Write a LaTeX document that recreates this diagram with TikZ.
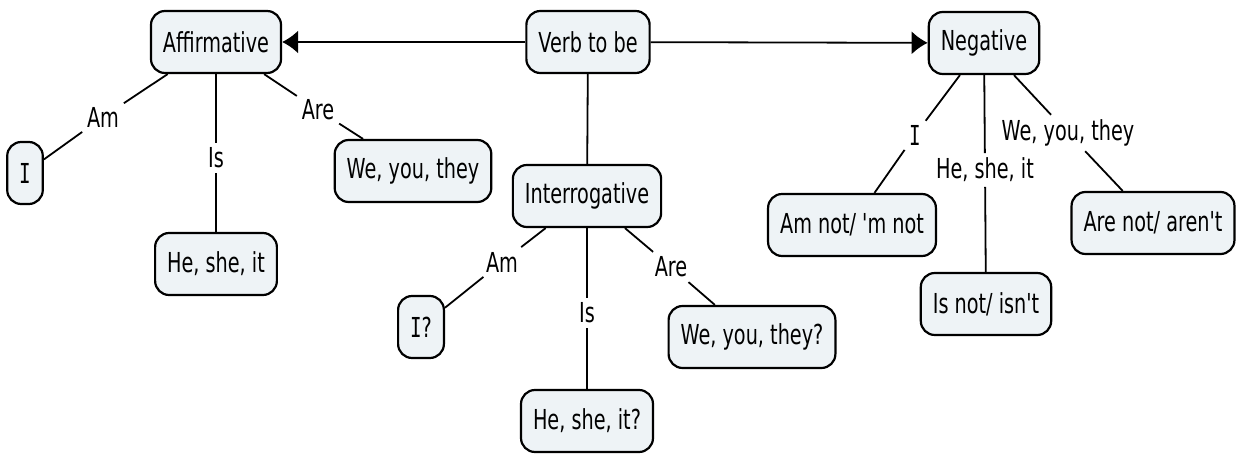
\documentclass[tikz,border=0pt]{standalone}
\usepackage{fontspec}
\newfontfamily\mapfont{DejaVu Sans}[FakeStretch=0.7]
\newfontfamily\mapserif{DejaVu Sans Mono}[FakeStretch=0.7]
\usetikzlibrary{arrows.meta}
\definecolor{conceptfill}{HTML}{EEF3F6}
\newcommand{\pI}{{\mapserif I}}
\tikzset{concept/.style={draw, rounded corners=14pt, fill=conceptfill, line width=2.2pt,
           minimum height=62pt, minimum width=34pt, inner xsep=12pt,
           font=\mapfont\fontsize{27.5}{32}\selectfont},
         linkword/.style={inner sep=4pt, font=\mapfont\fontsize{27.5}{32}\selectfont},
         >={Latex[length=16pt,width=23pt]}}

\begin{document}
\begin{tikzpicture}[x=1pt, y=-1pt, line width=1.8pt]
    \useasboundingbox (0,0) rectangle (1241,454);
    % concepts
    \node[concept] (verb) at (588,42) {Verb to be};
    \node[concept] (aff) at (216,42) {Affirmative};
    \node[concept] (neg) at (984,43) {Negative};
    \node[concept] (int) at (587,196) {Interrogative};
    \node[concept] (affI) at (25,173) {\pI};
    \node[concept] (affHe) at (216,264) {He, she, it};
    \node[concept] (affWe) at (413,171) {We, you, they};
    \node[concept] (intI) at (421,327) {\pI?};
    \node[concept] (intHe) at (587,421) {He, she, it?};
    \node[concept] (intWe) at (752,337) {We, you, they?};
    \node[concept] (negAm) at (852,225) {Am not/ 'm not};
    \node[concept] (negIs) at (986,304) {Is not/ isn't};
    \node[concept] (negAre) at (1153,223) {Are not/ aren't};

    % linking words
    \node[linkword] (affAm) at (103,117) {Am};
    \node[linkword] (affIs) at (216,158) {Is};
    \node[linkword] (affAre) at (318,110) {Are};
    \node[linkword] (intAm) at (502,262) {Am};
    \node[linkword] (intIs) at (587,313) {Is};
    \node[linkword] (intAre) at (671,267) {Are};
    \node[linkword] (negI) at (915,135) {\pI};
    \node[linkword] (negHe) at (985,170) {He, she, it};
    \node[linkword] (negWe) at (1068,133) {We, you, they};

    % connections
    \draw[->] (verb) -- (aff);
    \draw[->] (verb) -- (neg);
    \draw (verb) -- (int);
    \draw (aff) -- (affAm) -- (affI);
    \draw (aff) -- (affIs) -- (affHe);
    \draw (aff) -- (affAre) -- (affWe);
    \draw (int) -- (intAm) -- (intI);
    \draw (int) -- (intIs) -- (intHe);
    \draw (int) -- (intAre) -- (intWe);
    \draw (neg) -- (negI) -- (negAm);
    \draw (neg) -- (negHe) -- (negIs);
    \draw (neg) -- (negWe) -- (negAre);
\end{tikzpicture}
\end{document}
